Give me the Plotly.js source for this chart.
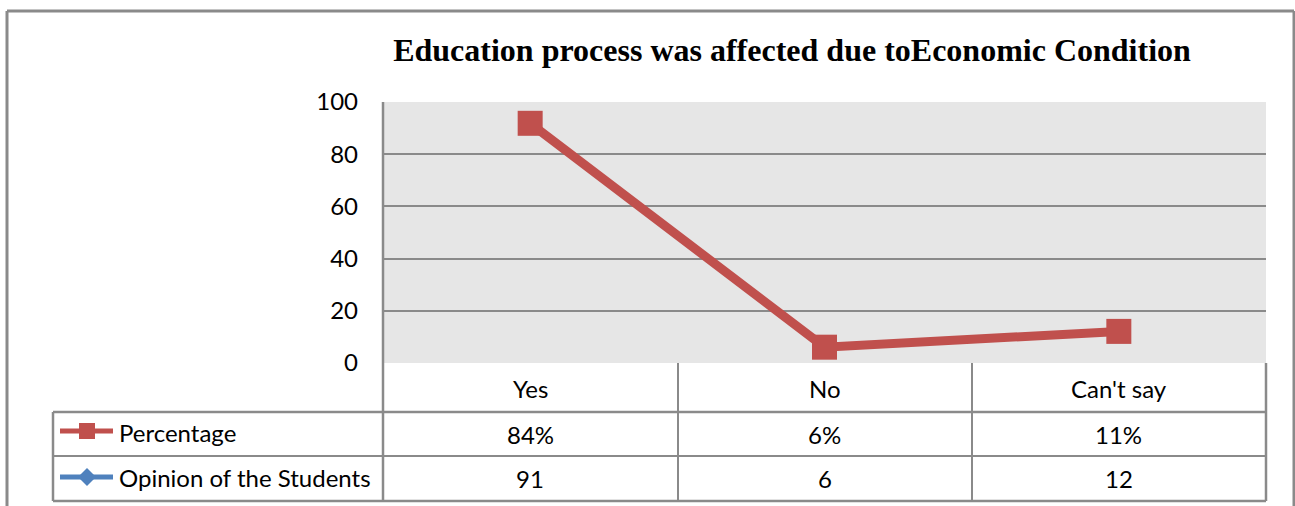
<!DOCTYPE html>
<html>
<head>
<meta charset="utf-8">
<script src="https://cdn.plot.ly/plotly-3.0.1.min.js"></script>
<style>html,body{margin:0;padding:0;background:#fff;}#chart{width:1295px;height:506px;}</style>
</head>
<body>
<div id="chart"></div>
<script>
const categories = ["Yes", "No", "Can't say"];
const opinion = [91, 6, 12];
const percentage = [0.84, 0.06, 0.11];
const seriesNames = ["Percentage", "Opinion of the Students"];
const yTicks = [0, 20, 40, 60, 80, 100];
const titleText = "Education process was affected due toEconomic Condition";

const FONT = "Lato, 'Open Sans', sans-serif";
const GRID = "#8a8a8a";
const RED = "#c0504d";
const BLUE = "#4f81bd";

const L = 383, R = 1266, T = 102, B = 363;
const px = v => (v - L) / (R - L);
const py = v => (B - v) / (B - T);

const xIdx = categories.map((_, i) => i);

const traces = [
  {
    x: xIdx, y: opinion, name: seriesNames[1], type: 'scatter', mode: 'lines+markers',
    stackgroup: 'one', fill: 'none',
    line: {color: BLUE, width: 3},
    marker: {symbol: 'diamond', size: 11, color: BLUE},
    showlegend: false, hoverinfo: 'skip'
  },
  {
    x: xIdx, y: percentage, name: seriesNames[0], type: 'scatter', mode: 'lines+markers',
    stackgroup: 'one', fill: 'none',
    line: {color: RED, width: 9},
    marker: {symbol: 'square', size: 25, color: RED},
    showlegend: false, hoverinfo: 'skip'
  }
];

const shapes = [];
const line = (x0, y0, x1, y1, w, c) => shapes.push({type: 'line', xref: 'paper', yref: 'paper',
  x0: px(x0), y0: py(y0), x1: px(x1), y1: py(y1), line: {color: c || GRID, width: w || 2}});

line(7, 11, 1294, 11, 3);
line(7, 11, 7, 520, 3);
line(1294, 11, 1294, 520, 3);
line(383, 102, 383, 501, 2.5);
line(1266, 363, 1266, 501, 2.5);
line(53, 412, 1266, 412, 2.5);
line(53, 456, 1266, 456, 2);
line(53, 501, 1266, 501, 2.5);
line(53, 412, 53, 501, 2.5);
line(678, 363, 678, 501, 2);
line(972, 363, 972, 501, 2);

line(60, 431, 113, 431, 5, RED);
shapes.push({type: 'rect', xref: 'paper', yref: 'paper', x0: px(79), x1: px(95), y0: py(423), y1: py(439),
  fillcolor: RED, line: {width: 0}});
line(60, 477, 113, 477, 5, BLUE);
shapes.push({type: 'path', xref: 'paper', yref: 'paper',
  path: `M ${px(87)} ${py(468)} L ${px(96)} ${py(477)} L ${px(87)} ${py(486)} L ${px(78)} ${py(477)} Z`,
  fillcolor: BLUE, line: {width: 0}});

const annotations = [];
const tf = {family: FONT, size: 24, color: '#000'};
categories.forEach((c, i) => {
  annotations.push({x: i, xref: 'x', y: py(388), yref: 'paper', text: c, showarrow: false, font: tf, yanchor: 'middle'});
  annotations.push({x: i, xref: 'x', y: py(434), yref: 'paper', text: Math.round(percentage[i] * 100) + '%', showarrow: false, font: tf, yanchor: 'middle'});
  annotations.push({x: i, xref: 'x', y: py(478), yref: 'paper', text: String(opinion[i]), showarrow: false, font: tf, yanchor: 'middle'});
});
annotations.push({x: px(117), xref: 'paper', xanchor: 'left', y: py(432), yref: 'paper', text: seriesNames[0], showarrow: false, font: tf, yanchor: 'middle'});
annotations.push({x: px(117), xref: 'paper', xanchor: 'left', y: py(477), yref: 'paper', text: seriesNames[1], showarrow: false, font: tf, yanchor: 'middle'});

const layout = {
  width: 1295, height: 506,
  margin: {l: L, r: 1295 - R, t: T, b: 506 - B, pad: 0},
  paper_bgcolor: '#fff', plot_bgcolor: '#e6e6e6',
  title: {text: '<b>' + titleText + '</b>', x: 792 / 1295, xanchor: 'center', y: 1 - 50 / 506, yanchor: 'middle',
    font: {family: "'Liberation Serif', 'Times New Roman', serif", size: 32, color: '#000'}},
  xaxis: {range: [-0.5, 2.5], showticklabels: false, showgrid: false, zeroline: false, showline: false, fixedrange: true},
  yaxis: {range: [0, 100], tickvals: yTicks, ticktext: yTicks.map(String), showgrid: true, gridcolor: GRID, gridwidth: 2,
    zeroline: false, showline: false, ticks: '', ticklabelstandoff: 24, tickfont: tf, fixedrange: true},
  shapes: shapes, annotations: annotations, showlegend: false
};

Plotly.newPlot('chart', traces, layout, {displayModeBar: false, staticPlot: true});
</script>
</body>
</html>
